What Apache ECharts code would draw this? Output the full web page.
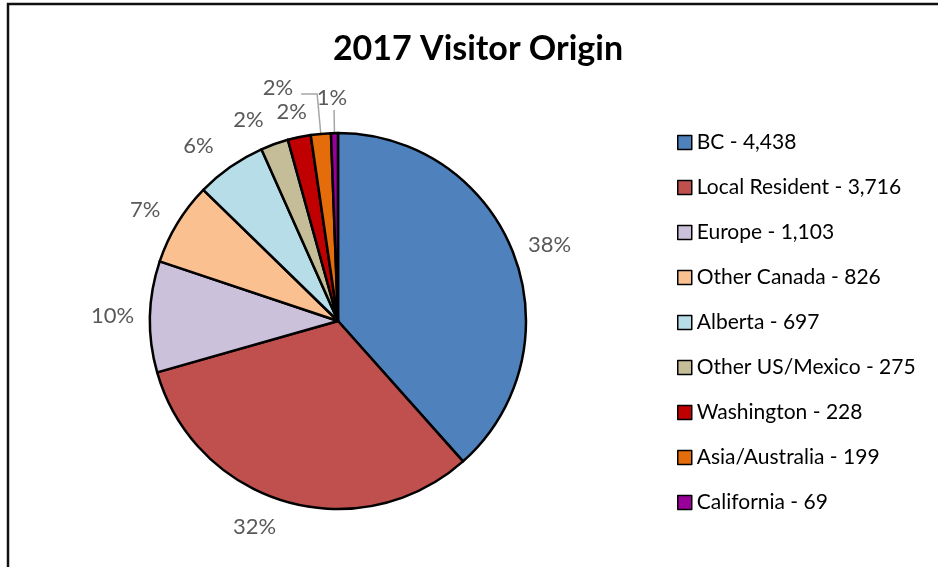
<!DOCTYPE html>
<html>
<head>
<meta charset="utf-8">
<script src="https://cdn.jsdelivr.net/npm/echarts@6/dist/echarts.min.js"></script>
<style>
html,body{margin:0;padding:0;background:#fff;}
#chart{width:938px;height:567px;}
</style>
</head>
<body>
<div id="chart"></div>
<script>
var categories = ['BC', 'Local Resident', 'Europe', 'Other Canada', 'Alberta', 'Other US/Mexico', 'Washington', 'Asia/Australia', 'California'];
var visitors = [4438, 3716, 1103, 826, 697, 275, 228, 199, 69];
var legendNames = ['BC - 4,438', 'Local Resident - 3,716', 'Europe - 1,103', 'Other Canada - 826', 'Alberta - 697', 'Other US/Mexico - 275', 'Washington - 228', 'Asia/Australia - 199', 'California - 69'];
var colors = ['#4F81BD', '#C0504D', '#CCC1DA', '#FAC090', '#B7DEE8', '#C4BD97', '#C00000', '#E46C0A', '#990099'];

var FONT = 'Lato';
// per-slice label tweaks (style only)
var labelTweaks = {
  0: { label: { distanceToLabelLine: -10 } },
  2: { label: { distanceToLabelLine: -10 } },
  3: { label: { distanceToLabelLine: -5 } },
  6: { label: { distanceToLabelLine: -13 } },
  7: { labelLine: { show: true, length: 40, length2: 16 }, label: { distanceToLabelLine: 8, formatter: '{d}%\n', lineHeight: 12 } },
  8: { labelLine: { show: true, length: 23, length2: 0 }, label: { distanceToLabelLine: -13, formatter: '{d}%\n', lineHeight: 24 } }
};
var data = visitors.map(function (v, i) {
  var item = { name: legendNames[i], value: v, itemStyle: { color: colors[i] } };
  if (labelTweaks[i]) {
    if (labelTweaks[i].label) item.label = labelTweaks[i].label;
    if (labelTweaks[i].labelLine) item.labelLine = labelTweaks[i].labelLine;
  }
  return item;
});

var chart = echarts.init(document.getElementById('chart'));
chart.setOption({
  backgroundColor: '#ffffff',
  animation: false,
  title: {
    text: '2017 Visitor Origin',
    left: 473, top: 27, textAlign: 'center',
    textStyle: { fontFamily: FONT, fontWeight: 'bold', fontSize: 34, color: '#000' }
  },
  graphic: [{
    type: 'rect',
    shape: { x: 8, y: 4, width: 1200, height: 1200 },
    style: { fill: 'none', stroke: '#111', lineWidth: 2.5 },
    silent: true
  }],
  legend: {
    orient: 'vertical',
    left: 677, top: 132,
    padding: 0,
    itemWidth: 14, itemHeight: 14,
    itemGap: 24,
    icon: 'rect',
    itemStyle: { borderColor: '#000', borderWidth: 1.5 },
    textStyle: { fontFamily: FONT, fontSize: 21, color: '#000', lineHeight: 21 },
    data: legendNames
  },
  series: [{
    type: 'pie',
    center: [338, 321],
    radius: 188,
    startAngle: 90,
    clockwise: true,
    percentPrecision: 0,
    avoidLabelOverlap: false,
    labelLayout: { hideOverlap: false },
    itemStyle: { borderColor: '#000', borderWidth: 2.5 },
    label: {
      show: true, position: 'outside', formatter: '{d}%',
      fontFamily: FONT, fontSize: 22, color: '#595959', distanceToLabelLine: 2
    },
    labelLine: { show: false, length: 26, length2: 0, lineStyle: { color: '#A6A6A6', width: 1.5 } },
    emphasis: { disabled: true },
    data: data
  }]
});
</script>
</body>
</html>
